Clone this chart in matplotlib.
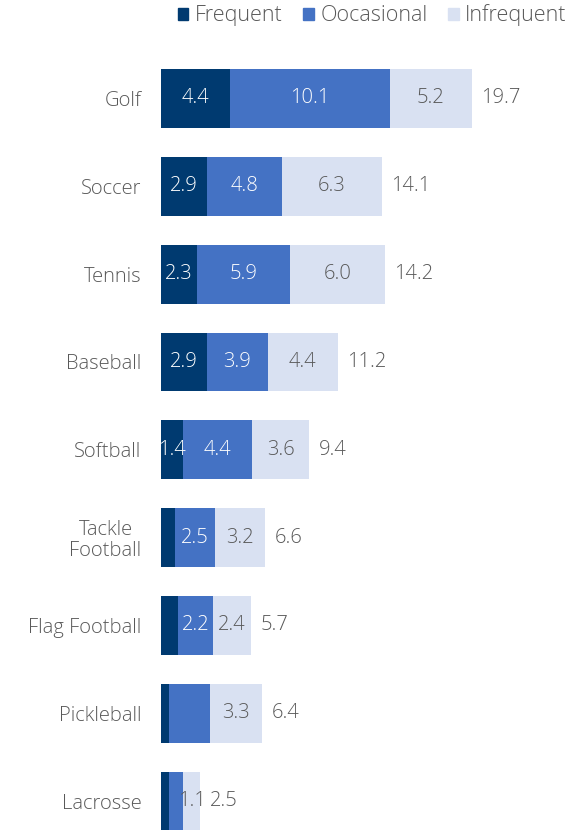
import numpy as np
import matplotlib.pyplot as plt
from matplotlib.patches import Patch

plt.rcParams['font.family'] = ['Open Sans', 'DejaVu Sans']
plt.rcParams['font.weight'] = 'light'

# participation (millions) by sport
sports = ['Golf', 'Soccer', 'Tennis', 'Baseball', 'Softball',
          'Tackle\nFootball', 'Flag Football', 'Pickleball', 'Lacrosse']
frequent = [4.4, 2.9, 2.3, 2.9, 1.4, 0.9, 1.1, 0.5, 0.5]
occasional = [10.1, 4.8, 5.9, 3.9, 4.4, 2.5, 2.2, 2.6, 0.9]
infrequent = [5.2, 6.3, 6.0, 4.4, 3.6, 3.2, 2.4, 3.3, 1.1]
totals = [19.7, 14.1, 14.2, 11.2, 9.4, 6.6, 5.7, 6.4, 2.5]

# which segment values get printed inside the bars
show_freq = [True, True, True, True, True, False, False, False, False]
show_occ = [True, True, True, True, True, True, True, False, False]
show_inf = [True] * 9

c_freq = '#003a70'
c_occ = '#4472c4'
c_inf = '#d9e1f2'
grey = '#595959'

fig = plt.figure(figsize=(5.69, 8.32), dpi=100)
ax = fig.add_axes([161/569, 0, 1 - 161/569, (832 - 40)/832])

y = np.arange(len(sports))
h = 0.67
fr = np.array(frequent)
oc = np.array(occasional)
inf = np.array(infrequent)

ax.barh(y, fr, height=h, color=c_freq)
ax.barh(y, oc, left=fr, height=h, color=c_occ)
ax.barh(y, inf, left=fr + oc, height=h, color=c_inf)

fs = 14.5
for i in range(len(sports)):
    if show_freq[i]:
        ax.text(fr[i]/2, y[i], f'{frequent[i]:.1f}', ha='center', va='center',
                color='white', fontsize=fs)
    if show_occ[i]:
        ax.text(fr[i] + oc[i]/2, y[i], f'{occasional[i]:.1f}', ha='center',
                va='center', color='white', fontsize=fs)
    if show_inf[i]:
        ax.text(fr[i] + oc[i] + inf[i]/2, y[i], f'{infrequent[i]:.1f}',
                ha='center', va='center', color=grey, fontsize=fs)
    end = fr[i] + oc[i] + inf[i]
    ax.text(end + 0.6, y[i], f'{totals[i]:.1f}', ha='left', va='center',
            color=grey, fontsize=fs)

ax.set_xlim(0, 408/15.77)
ax.set_ylim(8.353, -0.666)
ax.set_yticks(y)
ax.set_yticklabels(sports, fontsize=fs, color=grey, ma='center',
                   linespacing=1.05)
ax.tick_params(axis='y', length=0, pad=14)
ax.set_xticks([])
for s in ax.spines.values():
    s.set_visible(False)

handles = [Patch(color=c_freq, label='Frequent'),
           Patch(color=c_occ, label='Oocasional'),
           Patch(color=c_inf, label='Infrequent')]
leg = fig.legend(handles=handles, loc='upper right', bbox_to_anchor=(1.03, 1.018),
                 ncol=3, frameon=False, fontsize=15.5, handlelength=0.5,
                 handleheight=0.5, handletextpad=0.3, columnspacing=0.95)
for t in leg.get_texts():
    t.set_color(grey)

fig.savefig('out.png', dpi=100)
